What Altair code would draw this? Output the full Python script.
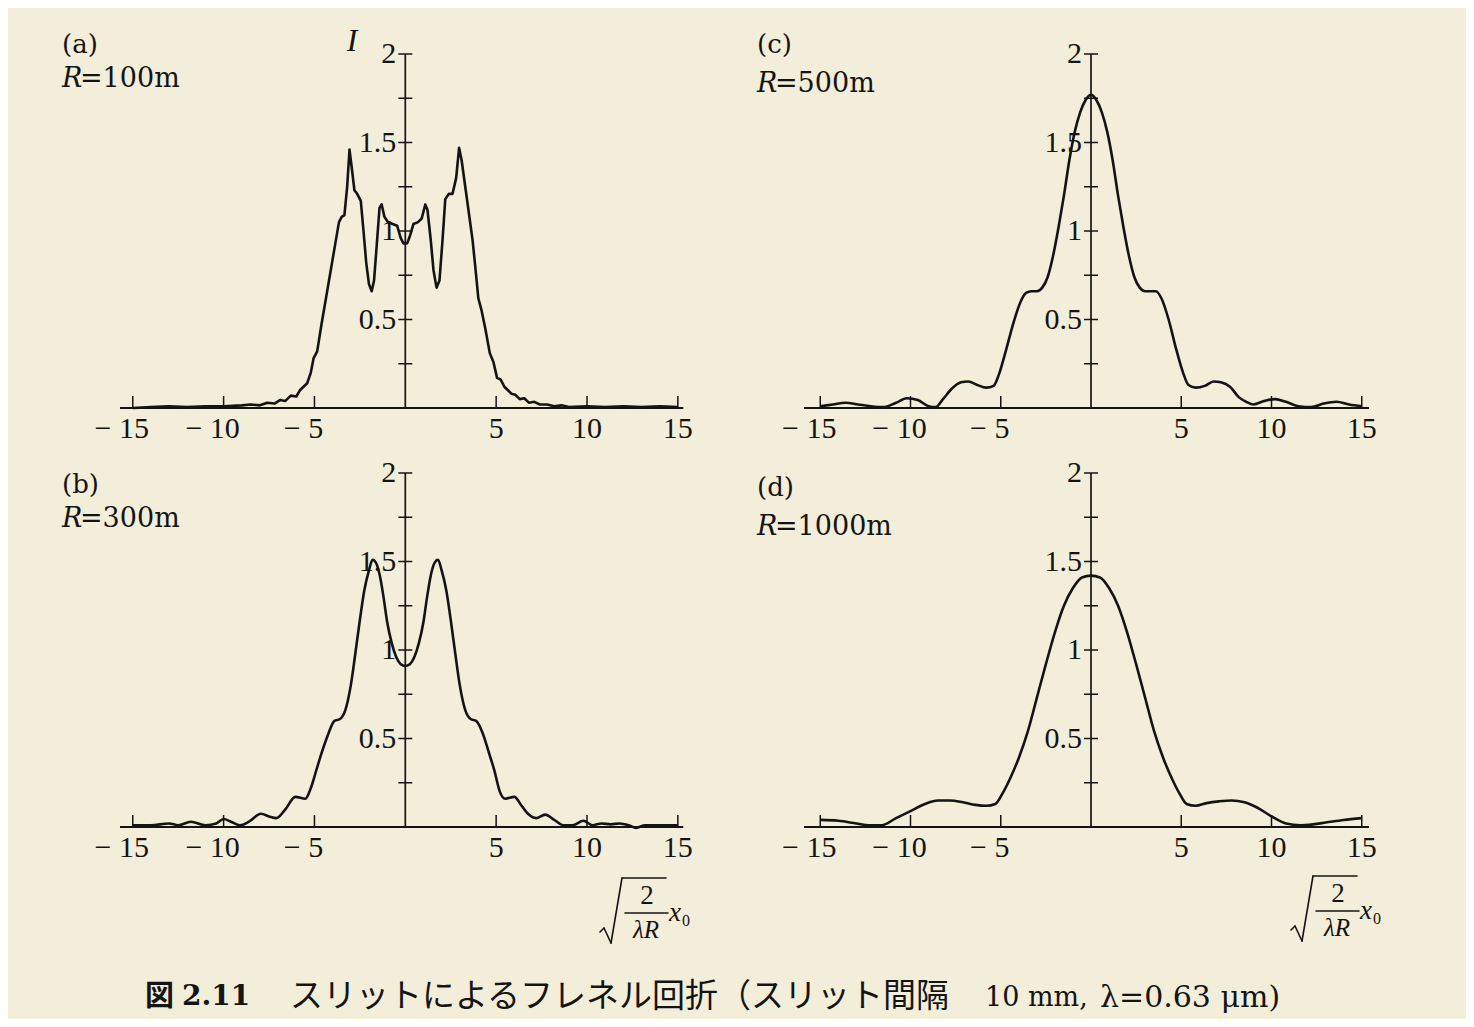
import altair as alt
import pandas as pd

# ---------------- data ----------------
# (a) R = 100 m
x_a = [-15, -14, -13, -12, -11, -10, -9, -8.5, -8, -7.6, -7.2, -6.9, -6.6, -6.3, -6.0, -5.8, -5.6, -5.4,
       -5.2, -5.05, -4.85, -4.6, -4.35, -4.1, -3.85, -3.65, -3.5, -3.35, -3.2, -3.07, -2.95, -2.8, -2.65,
       -2.45, -2.3, -2.15, -2.0, -1.85, -1.72, -1.55, -1.42, -1.3, -1.15, -0.95, -0.7, -0.45, -0.25, -0.1,
       0.1, 0.25, 0.45, 0.7, 0.9, 1.1, 1.22, 1.4, 1.55, 1.72, 1.88, 2.05, 2.2, 2.4, 2.6, 2.8, 2.96, 3.1,
       3.3, 3.5, 3.7, 3.85, 4.02, 4.2, 4.4, 4.65, 4.85, 5.05, 5.25, 5.45, 5.65, 5.85, 6.05, 6.3, 6.55,
       6.8, 7.1, 7.4, 7.8, 8.2, 8.6, 9, 10, 11, 12, 13, 14, 15]
I_a = [0.0, 0.005, 0.01, 0.005, 0.01, 0.01, 0.015, 0.02, 0.015, 0.03, 0.025, 0.045, 0.04, 0.07, 0.065,
       0.1, 0.12, 0.14, 0.2, 0.28, 0.32, 0.48, 0.63, 0.78, 0.93, 1.05, 1.08, 1.09, 1.25, 1.46, 1.36, 1.23,
       1.21, 1.17, 1.0, 0.82, 0.7, 0.66, 0.72, 0.95, 1.13, 1.15, 1.08, 1.05, 1.04, 1.03, 0.96, 0.93,
       0.93, 0.97, 1.04, 1.05, 1.07, 1.15, 1.12, 0.95, 0.78, 0.68, 0.72, 0.95, 1.18, 1.21, 1.21, 1.3,
       1.47, 1.4, 1.25, 1.1, 0.95, 0.8, 0.62, 0.55, 0.45, 0.31, 0.26, 0.17, 0.16, 0.12, 0.1, 0.08, 0.075,
       0.05, 0.055, 0.03, 0.035, 0.02, 0.02, 0.01, 0.015, 0.005, 0.01, 0.005, 0.01, 0.005, 0.01, 0.005]

# (b) R = 300 m
x_b = [-15, -14, -13, -12.5, -11.8, -11, -10.4, -10, -9.6, -9.1, -8.6, -7.95, -7.5, -7.1, -6.6, -6.05,
       -5.5, -5.2, -4.9, -4.6, -4.26, -3.9, -3.6, -3.3, -3.0, -2.75, -2.5, -2.25, -2.0, -1.8, -1.6, -1.4,
       -1.2, -1.0, -0.75, -0.5, -0.25, 0, 0.25, 0.5, 0.75, 1.0, 1.2, 1.4, 1.6, 1.8, 2.0, 2.25, 2.5, 2.75,
       3.0, 3.3, 3.6, 3.9, 4.26, 4.6, 4.9, 5.2, 5.5, 6.0, 6.4, 6.8, 7.2, 7.7, 8.2, 8.7, 9.2, 9.8, 10.3,
       10.8, 11.3, 11.8, 12.3, 12.7, 13.2, 14, 15]
I_b = [0.01, 0.01, 0.02, 0.01, 0.03, 0.01, 0.02, 0.045, 0.03, 0.01, 0.03, 0.075, 0.06, 0.05, 0.1, 0.17,
       0.16, 0.22, 0.32, 0.42, 0.52, 0.6, 0.61, 0.66, 0.8, 0.98, 1.17, 1.34, 1.45, 1.51, 1.49, 1.42,
       1.3, 1.16, 1.04, 0.96, 0.92, 0.91, 0.92, 0.96, 1.04, 1.16, 1.3, 1.42, 1.49, 1.51, 1.45, 1.34,
       1.17, 0.98, 0.8, 0.66, 0.61, 0.6, 0.53, 0.42, 0.32, 0.2, 0.16, 0.17, 0.12, 0.07, 0.05, 0.07, 0.04,
       0.01, 0.01, 0.035, 0.01, 0.02, 0.015, 0.02, 0.01, -0.005, 0.01, 0.01, 0.01]

# (c) R = 500 m
x_c = [-15, -14.3, -13.6, -12.9, -12.2, -11.5, -10.8, -10.2, -9.6, -9.0, -8.6, -8.2, -7.7, -7.2, -6.8,
       -6.3, -5.8, -5.4, -5.1, -4.7, -4.3, -3.9, -3.6, -3.3, -3.0, -2.7, -2.4, -2.1, -1.8, -1.5, -1.2,
       -0.9, -0.6, -0.3, 0, 0.3, 0.6, 0.9, 1.2, 1.5, 1.8, 2.1, 2.4, 2.7, 3.0, 3.3, 3.6, 3.9, 4.3, 4.7,
       5.1, 5.4, 5.8, 6.3, 6.8, 7.2, 7.7, 8.2, 8.6, 9.0, 9.6, 10.2, 10.8, 11.5, 12.2, 12.9, 13.6, 14.3, 15]
I_c = [0.01, 0.02, 0.03, 0.02, 0.01, 0.005, 0.03, 0.055, 0.045, 0.01, 0.005, 0.05, 0.11, 0.145, 0.15,
       0.13, 0.115, 0.125, 0.19, 0.33, 0.48, 0.6, 0.65, 0.66, 0.66, 0.68, 0.74, 0.86, 1.02, 1.2, 1.4,
       1.56, 1.67, 1.74, 1.77, 1.74, 1.67, 1.56, 1.4, 1.2, 1.02, 0.86, 0.74, 0.68, 0.66, 0.66, 0.66,
       0.62, 0.5, 0.34, 0.2, 0.13, 0.115, 0.125, 0.15, 0.145, 0.12, 0.06, 0.035, 0.02, 0.04, 0.05,
       0.035, 0.01, 0.005, 0.025, 0.035, 0.02, 0.01]

# (d) R = 1000 m
x_d = [-15, -14, -13, -12.3, -11.6, -10.8, -10, -9.2, -8.5, -7.8, -7.1, -6.4, -5.8, -5.3, -4.9, -4.5,
       -4.0, -3.5, -3.0, -2.5, -2.0, -1.5, -1.0, -0.5, 0, 0.5, 1.0, 1.5, 2.0, 2.5, 3.0, 3.5, 4.0, 4.5,
       4.9, 5.3, 5.8, 6.4, 7.1, 7.8, 8.5, 9.2, 10, 10.8, 11.6, 12.3, 13, 14, 15]
I_d = [0.04, 0.035, 0.02, 0.01, 0.01, 0.05, 0.09, 0.13, 0.15, 0.15, 0.14, 0.125, 0.12, 0.13, 0.19, 0.27,
       0.39, 0.54, 0.73, 0.92, 1.1, 1.25, 1.35, 1.41, 1.42, 1.41, 1.35, 1.25, 1.1, 0.92, 0.73, 0.54,
       0.39, 0.27, 0.19, 0.13, 0.12, 0.135, 0.145, 0.15, 0.14, 0.11, 0.06, 0.02, 0.01, 0.015, 0.025,
       0.04, 0.05]

x_tick_values = [-15, -10, -5, 5, 10, 15]
x_tick_labels = ["\u2212 15", "\u2212 10", "\u2212 5", "5", "10", "15"]
y_tick_values = [0.25, 0.5, 0.75, 1.0, 1.25, 1.5, 1.75, 2.0]
y_label_values = [0.5, 1.0, 1.5, 2.0]
y_labels = ["0.5", "1", "1.5", "2"]
panel_tags = ["(a)", "(b)", "(c)", "(d)"]
panel_R = ["=100m", "=300m", "=500m", "=1000m"]
caption_parts = ["図", "2.11", "スリットによるフレネル回折", "（スリット間隔", "10 mm,", "λ=0.63 μm)"]

# ---------------- styling / layout ----------------
INK = "#141414"
BG = "#f3eed9"
SERIF = "Liberation Serif"
WSERIF = "DejaVu Serif"
CJK = "Noto Sans CJK JP"

COLS = [dict(left=13, width=685, x0=405.3, xs=18.17, span=(-15.7, 15.3)),
        dict(left=700, width=761, x0=1091.0, xs=18.05, span=(-15.9, 15.4))]
ROWS = [dict(top=13, height=437, y0=408.0),
        dict(top=452, height=498, y0=827.0)]
YS = 177.0
ONE = pd.DataFrame({"k": [0]})


def note(text, px, py, font, size, style="normal", weight="normal", align="left"):
    return alt.Chart(ONE).mark_text(
        text=text, font=font, fontSize=size, fontStyle=style, fontWeight=weight,
        align=align, baseline="middle", color=INK
    ).encode(x=alt.value(px), y=alt.value(py))


def seg(x1, y1, x2, y2, w=1.5):
    return alt.Chart(ONE).mark_rule(color=INK, strokeWidth=w, strokeCap="round").encode(
        x=alt.value(x1), y=alt.value(y1), x2=alt.value(x2), y2=alt.value(y2))


def formula(left, top, dx, dy):
    # drawn in page coordinates of panel (b); shifted by (dx, dy)
    def P(x, y):
        return x + dx - left, y + dy - top
    pts = [P(600, 932), P(604, 928), P(611, 943), P(622, 878), P(666, 878)]
    layers = [seg(*pts[i], *pts[i + 1], w=1.6) for i in range(len(pts) - 1)]
    layers.append(seg(*P(625, 913), *P(668, 913), w=1.5))
    layers.append(note("2", *P(647, 896), SERIF, 27, align="center"))
    layers.append(note("λR", *P(646, 930), SERIF, 25, style="italic", align="center"))
    layers.append(note("x", *P(669, 913), SERIF, 27, style="italic"))
    layers.append(note("0", *P(682, 921), SERIF, 16))
    return layers


def panel(xs, Is, idx, col, row, interp, show_I=False, with_formula=False, fshift=(0, 0)):
    c = COLS[col]
    r = ROWS[row]
    xdom = [(c["left"] - c["x0"]) / c["xs"], (c["left"] + c["width"] - c["x0"]) / c["xs"]]
    ydom = [(r["y0"] - (r["top"] + r["height"])) / YS, (r["y0"] - r["top"]) / YS]
    xsc = alt.Scale(domain=xdom, nice=False, zero=False)
    ysc = alt.Scale(domain=ydom, nice=False, zero=False)

    def ex(f):
        return alt.X(f, type="quantitative", scale=xsc, axis=None)

    def ey(f):
        return alt.Y(f, type="quantitative", scale=ysc, axis=None)

    curve = alt.Chart(pd.DataFrame({"x": xs, "I": Is})).mark_line(
        color=INK, strokeWidth=2.6, interpolate=interp, strokeJoin="round"
    ).encode(x=ex("x"), y=ey("I"))

    xaxis = alt.Chart(pd.DataFrame({"a": [c["span"][0]], "b": [c["span"][1]], "y": [0.0]})).mark_rule(
        color=INK, strokeWidth=1.9).encode(x=ex("a"), x2="b", y=ey("y"))
    yaxis = alt.Chart(pd.DataFrame({"x": [0.0], "lo": [0.0], "hi": [2.0]})).mark_rule(
        color=INK, strokeWidth=1.7).encode(x=ex("x"), y=ey("lo"), y2="hi")

    xt = pd.DataFrame({"x": x_tick_values, "y": [0.0] * len(x_tick_values), "label": x_tick_labels})
    xticks = alt.Chart(xt).mark_tick(orient="vertical", size=12, thickness=1.5, color=INK,
                                     opacity=1, yOffset=-6).encode(x=ex("x"), y=ey("y"))
    xlab_neg = alt.Chart(xt[xt["x"] < 0]).mark_text(
        font=SERIF, fontSize=30, color=INK, dy=21, dx=-11, align="center", baseline="middle"
    ).encode(x=ex("x"), y=ey("y"), text="label:N")
    xlab_pos = alt.Chart(xt[xt["x"] > 0]).mark_text(
        font=SERIF, fontSize=30, color=INK, dy=21, align="center", baseline="middle"
    ).encode(x=ex("x"), y=ey("y"), text="label:N")

    yt = pd.DataFrame({"x": [0.0] * len(y_tick_values), "y": y_tick_values})
    yticks = alt.Chart(yt).mark_tick(orient="horizontal", size=14, thickness=1.5, color=INK,
                                     opacity=1).encode(x=ex("x"), y=ey("y"))
    yl = pd.DataFrame({"x": [0.0] * len(y_label_values), "y": y_label_values, "label": y_labels})
    ylabs = alt.Chart(yl).mark_text(
        font=SERIF, fontSize=30, color=INK, dx=-9, align="right", baseline="middle"
    ).encode(x=ex("x"), y=ey("y"), text="label:N")

    layers = [xaxis, yaxis, xticks, yticks, curve, xlab_neg, xlab_pos, ylabs]

    tag_pos = [(62, 45, 79), (62, 485, 519), (757, 45, 84), (757, 488, 527)][idx]
    px = tag_pos[0] - c["left"]
    layers.append(note(panel_tags[idx], px, tag_pos[1] - r["top"], WSERIF, 26))
    layers.append(note("R", px, tag_pos[2] - r["top"], WSERIF, 27, style="italic"))
    layers.append(note(panel_R[idx], px + 18, tag_pos[2] - r["top"], WSERIF, 27))
    if show_I:
        layers.append(note("I", 352 - c["left"], 41 - r["top"], SERIF, 32, style="italic", align="center"))
    if with_formula:
        layers += formula(c["left"], r["top"], *fshift)

    return alt.layer(*layers).properties(width=c["width"], height=r["height"])


pa = panel(x_a, I_a, 0, 0, 0, "linear", show_I=True)
pc = panel(x_c, I_c, 2, 1, 0, "monotone")
pb = panel(x_b, I_b, 1, 0, 1, "monotone", with_formula=True, fshift=(0, 0))
pd_ = panel(x_d, I_d, 3, 1, 1, "monotone", with_formula=True, fshift=(691, -2))

CAP_TOP = 952
cap = alt.layer(
    note(caption_parts[0], 145 - 13, 997 - CAP_TOP, CJK, 29, weight="bold"),
    note(caption_parts[1], 182 - 13, 997 - CAP_TOP, WSERIF, 28, weight="bold"),
    note(caption_parts[2], 290 - 13, 997 - CAP_TOP, CJK, 33),
    note(caption_parts[3], 718 - 13, 997 - CAP_TOP, CJK, 33),
    note(caption_parts[4], 985 - 13, 998 - CAP_TOP, WSERIF, 27),
    note(caption_parts[5], 1100 - 13, 998 - CAP_TOP, WSERIF, 30),
).properties(width=1448, height=62)

chart = alt.vconcat(
    alt.hconcat(pa, pc, spacing=2),
    alt.hconcat(pb, pd_, spacing=2),
    cap,
    spacing=2,
).properties(padding=5).configure(background=BG).configure_view(stroke=None)

chart.save("out.html", embed_options={"renderer": "svg", "actions": False})
